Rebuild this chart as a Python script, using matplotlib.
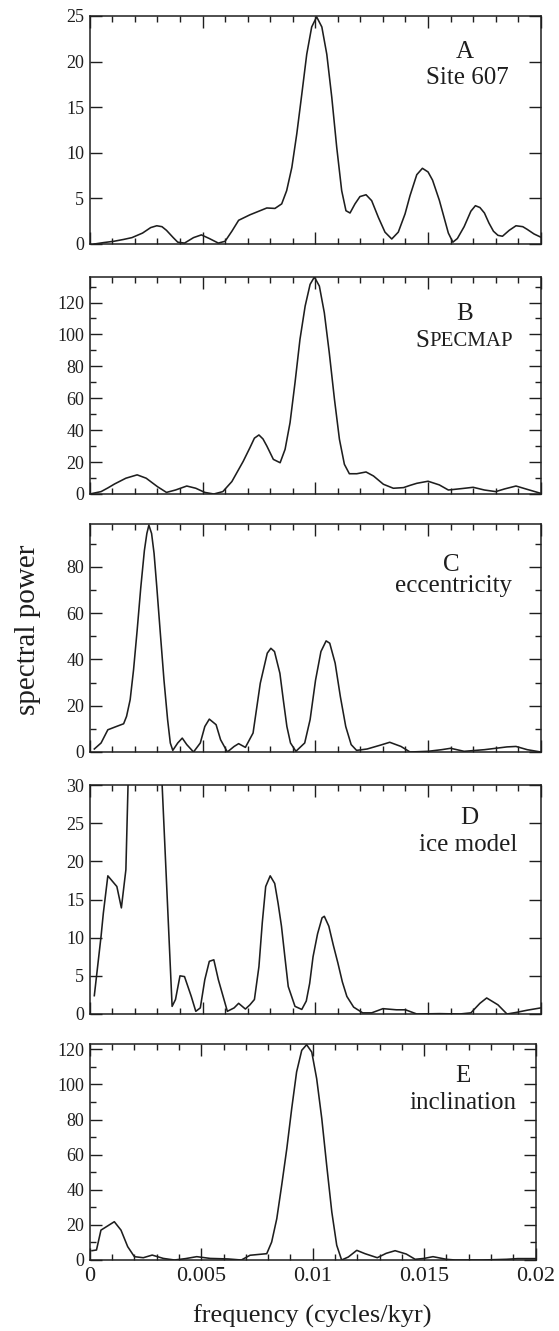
import matplotlib
matplotlib.use("Agg")
import matplotlib.pyplot as plt
from matplotlib.ticker import MultipleLocator, FixedLocator

plt.rcParams['font.family'] = ['Liberation Serif', 'DejaVu Serif']

ink = "#1e1e1e"

# panel A - Site 607
freq_a = [0.0002, 0.0006, 0.00107, 0.0015, 0.00187, 0.00234, 0.0027, 0.00297, 0.0032, 0.0034,
          0.0037, 0.0039, 0.0042, 0.0046, 0.00495, 0.0053, 0.0057, 0.0060, 0.0063, 0.0066,
          0.0071, 0.00755, 0.00785, 0.00821, 0.00851, 0.00873, 0.00896, 0.00918, 0.0094, 0.00962,
          0.00984, 0.01006, 0.01029, 0.01051, 0.01073, 0.01095, 0.01117, 0.01136, 0.01154, 0.01176,
          0.01198, 0.01225, 0.0125, 0.0128, 0.01309, 0.01339, 0.01368, 0.01398, 0.0142, 0.0145,
          0.01475, 0.0150, 0.0152, 0.0155, 0.0157, 0.0159, 0.0161, 0.0163, 0.0166, 0.0169,
          0.0171, 0.0173, 0.0175, 0.0177, 0.0179, 0.0181, 0.0183, 0.0186, 0.0189, 0.0192,
          0.0194, 0.0197, 0.0200]
power_a = [0.0, 0.15, 0.3, 0.5, 0.7, 1.2, 1.8, 2.0, 1.9, 1.5,
           0.7, 0.2, 0.1, 0.7, 1.0, 0.6, 0.1, 0.3, 1.4, 2.6,
           3.2, 3.65, 3.95, 3.9, 4.4, 5.85, 8.4, 12.1, 16.4, 20.8,
           23.8, 24.9, 23.8, 20.8, 16.1, 10.6, 5.85, 3.65, 3.4, 4.4,
           5.2, 5.4, 4.75, 2.9, 1.3, 0.55, 1.3, 3.3, 5.3, 7.6,
           8.3, 7.9, 7.0, 4.8, 3.0, 1.2, 0.2, 0.6, 1.9, 3.6,
           4.2, 4.0, 3.4, 2.3, 1.4, 0.95, 0.85, 1.5, 2.0, 1.9,
           1.6, 1.1, 0.75]

# panel B - SPECMAP
freq_b = [0.0000, 0.0005, 0.0008, 0.0011, 0.0016, 0.0021, 0.0025, 0.0030, 0.0034, 0.0038,
          0.0043, 0.0047, 0.0051, 0.0055, 0.0059, 0.0063, 0.0068, 0.0071, 0.0073, 0.0075,
          0.00768, 0.00785, 0.00814, 0.00844, 0.00866, 0.00888, 0.0091, 0.00932, 0.00955, 0.00977,
          0.00996, 0.01018, 0.0104, 0.01062, 0.01085, 0.01107, 0.01129, 0.01151, 0.01184, 0.01225,
          0.01258, 0.01302, 0.01346, 0.01391, 0.0142, 0.0145, 0.0150, 0.0155, 0.0159, 0.0165,
          0.0170, 0.0175, 0.0180, 0.0184, 0.0189, 0.0194, 0.0200]
power_b = [0.0, 1.5, 3.8, 6.3, 9.9, 12.0, 9.9, 4.6, 1.0, 2.5,
           5.0, 3.6, 1.0, 0.0, 1.5, 7.8, 20.4, 29.0, 35.0, 37.0,
           34.5, 30.1, 21.7, 19.6, 28.0, 44.7, 69.7, 96.9, 117.8, 131.4,
           136.0, 130.3, 113.6, 88.5, 59.3, 34.3, 18.6, 12.7, 12.7, 13.8,
           11.3, 6.1, 3.6, 4.0, 5.4, 6.7, 8.0, 5.7, 2.5, 3.4,
           4.2, 2.5, 1.5, 3.2, 5.0, 2.9, 0.4]

# panel C - eccentricity
freq_c = [0.0002, 0.0005, 0.0008, 0.0012, 0.0015, 0.00163, 0.00179, 0.00194, 0.0021, 0.00226,
          0.00242, 0.00253, 0.00262, 0.00274, 0.00285, 0.00297, 0.00313, 0.00329, 0.00345, 0.00357,
          0.00368, 0.0039, 0.0041, 0.0043, 0.0046, 0.0049, 0.0051, 0.0053, 0.0056, 0.0058,
          0.0061, 0.0064, 0.0066, 0.0069, 0.00724, 0.00756, 0.00787, 0.00803, 0.00819, 0.00843,
          0.00858, 0.00874, 0.0089, 0.00914, 0.00953, 0.00977, 0.01001, 0.01025, 0.01048, 0.01064,
          0.01088, 0.01111, 0.01135, 0.01159, 0.01183, 0.0123, 0.0129, 0.0133, 0.0138, 0.0142,
          0.0150, 0.0156, 0.0160, 0.0166, 0.0175, 0.0185, 0.0189, 0.0194, 0.0200]
power_c = [1.3, 3.9, 9.6, 11.1, 12.2, 15.4, 22.6, 35.5, 52.6, 71.0,
           87.0, 94.4, 98.0, 94.4, 85.8, 71.4, 51.0, 31.0, 14.0, 3.9,
           0.7, 3.9, 6.0, 3.2, 0.0, 3.9, 11.0, 14.2, 11.8, 5.3,
           0.0, 2.4, 3.6, 2.0, 8.2, 29.7, 42.7, 44.8, 43.4, 34.0,
           22.6, 11.0, 3.9, 0.3, 3.9, 14.0, 31.0, 43.4, 48.0, 47.0,
           38.4, 24.0, 11.0, 3.2, 0.7, 1.3, 3.0, 4.2, 2.4, 0.0,
           0.3, 1.0, 1.6, 0.3, 1.0, 2.2, 2.4, 1.0, 0.0]

# panel D - ice model (main peak runs off the top of the panel)
freq_d = [0.0002, 0.0005, 0.0006, 0.0008, 0.0012, 0.0014, 0.0016, 0.0017, 0.0019, 0.0026,
          0.0032, 0.00365, 0.0038, 0.0040, 0.0042, 0.0045, 0.0047, 0.0049, 0.0051, 0.0053,
          0.0055, 0.0057, 0.0061, 0.0064, 0.0066, 0.0069, 0.0071, 0.0073, 0.0075, 0.00765,
          0.0078, 0.0080, 0.0082, 0.00835, 0.0085, 0.00865, 0.0088, 0.0091, 0.0094, 0.0096,
          0.00975, 0.0099, 0.0101, 0.0103, 0.0104, 0.0106, 0.0108, 0.0110, 0.0112, 0.0114,
          0.0117, 0.0121, 0.0125, 0.0130, 0.0136, 0.0140, 0.0145, 0.0155, 0.0164, 0.0169,
          0.0173, 0.0176, 0.0181, 0.0185, 0.0189, 0.0194, 0.0200]
power_d = [2.4, 10.2, 13.2, 18.1, 16.7, 13.9, 18.9, 30.5, 60.0, 90.0,
           30.5, 1.0, 1.9, 5.0, 4.9, 2.3, 0.35, 0.8, 4.5, 6.9,
           7.1, 4.5, 0.35, 0.8, 1.4, 0.65, 1.2, 1.9, 6.2, 12.0,
           16.7, 18.1, 17.1, 14.5, 11.5, 7.5, 3.6, 1.0, 0.6, 1.7,
           4.0, 7.5, 10.5, 12.6, 12.8, 11.5, 9.0, 6.7, 4.2, 2.3,
           0.9, 0.15, 0.15, 0.7, 0.55, 0.55, 0.0, 0.05, 0.0, 0.15,
           1.4, 2.1, 1.2, 0.0, 0.2, 0.5, 0.8]

# panel E - inclination
freq_e = [0.0001, 0.0003, 0.0005, 0.0008, 0.0011, 0.0014, 0.0017, 0.0020, 0.0024, 0.0028,
          0.0033, 0.0038, 0.0043, 0.0048, 0.0054, 0.0062, 0.0068, 0.00719, 0.00794, 0.00816,
          0.00839, 0.00861, 0.00884, 0.00906, 0.00928, 0.00951, 0.00973, 0.00996, 0.01018, 0.01041,
          0.01063, 0.01086, 0.01108, 0.0113, 0.0116, 0.01198, 0.01235, 0.0129, 0.0133, 0.0137,
          0.0142, 0.0146, 0.0150, 0.0154, 0.0160, 0.0164, 0.0176, 0.0187, 0.0192, 0.0200]
power_e = [5.3, 5.7, 17.0, 19.4, 21.8, 17.0, 7.6, 1.9, 1.3, 2.8,
           0.9, 0.0, 0.8, 1.9, 0.9, 0.6, 0.0, 2.7, 3.6, 10.2,
           23.5, 42.5, 63.4, 86.2, 107.1, 119.4, 122.6, 118.4, 103.3, 80.5,
           53.9, 27.3, 8.4, 0.0, 1.7, 5.5, 3.6, 1.3, 3.8, 5.3,
           3.4, 0.4, 0.9, 1.9, 0.4, 0.0, 0.0, 0.4, 0.8, 0.8]

panels = [
    (freq_a, power_a, 25, 5, None, "A", "Site 607", (0.832, 0.815), (0.838, 0.702)),
    (freq_b, power_b, 136, 20, 10, "B", "SPECMAP", (0.832, 0.804), (0.840, 0.677)),
    (freq_c, power_c, 98.5, 20, 10, "C", "eccentricity", (0.802, 0.792), (0.806, 0.703)),
    (freq_d, power_d, 30, 5, None, "D", "ice model", (0.842, 0.83), (0.840, 0.713)),
    (freq_e, power_e, 123, 20, 10, "E", "inclination", (0.838, 0.823), (0.838, 0.699)),
]

# axes boxes in pixels (top, bottom, right) for a 559x1331 canvas
boxes = [(16, 244, 540.8), (277, 494, 540.8), (524, 752, 540.8),
         (785, 1014, 540.8), (1044, 1260, 535.5)]

W, H = 559, 1331
fig = plt.figure(figsize=(W / 100, H / 100), dpi=100)
left_px = 89.8

for (fx, py, ytop, ymaj, ymin, letter, name, pos_l, pos_n), (t, b, r) in zip(panels, boxes):
    ax = fig.add_axes([left_px / W, 1 - b / H, (r - left_px) / W, (b - t) / H])
    ax.plot(fx, py, color=ink, lw=1.15)
    ax.set_xlim(0, 0.02)
    ax.set_ylim(0, ytop)
    ax.xaxis.set_major_locator(MultipleLocator(0.005))
    ax.xaxis.set_minor_locator(MultipleLocator(0.001))
    ax.yaxis.set_major_locator(MultipleLocator(ymaj))
    if ymin:
        ax.yaxis.set_minor_locator(MultipleLocator(ymin))
    else:
        ax.yaxis.set_minor_locator(FixedLocator([]))
    ax.tick_params(which='both', direction='in', top=True, right=True,
                   color=ink, width=1.0)
    ax.tick_params(which='major', length=8.6)
    ax.tick_params(which='minor', length=4.3)
    ax.tick_params(axis='y', labelsize=13, pad=4, labelcolor=ink)
    ax.tick_params(axis='x', labelsize=16, pad=5, labelcolor=ink)
    for sp in ax.spines.values():
        sp.set_linewidth(1.1)
        sp.set_color(ink)
    if letter != "E":
        ax.set_xticklabels([])
    else:
        ax.set_xticks([0, 0.005, 0.01, 0.015, 0.02])
        ax.set_xticklabels(["0", "0.005", "0.01", "0.015", "0.02"])

    ax.text(pos_l[0], pos_l[1], letter, transform=ax.transAxes, ha='center',
            va='baseline', fontsize=18, color=ink)
    if name == "SPECMAP":
        # small caps done by hand
        s = ax.text(0.722, pos_n[1], "S", transform=ax.transAxes, ha='left',
                    va='baseline', fontsize=18, color=ink)
        ax.annotate("PECMAP", xy=(1, 0), xycoords=s, ha='left', va='bottom',
                    fontsize=15, color=ink, xytext=(0, 1), textcoords='offset points')
    else:
        ax.text(pos_n[0], pos_n[1], name, transform=ax.transAxes, ha='center',
                va='baseline', fontsize=18, color=ink)

fig.text(28.5 / W, 1 - 630 / H, "spectral power", rotation=90, ha='center',
         va='center', fontsize=21, color=ink)
fig.text(312.6 / W, 1 - 1316 / H, "frequency (cycles/kyr)", ha='center',
         va='center', fontsize=19, color=ink)

fig.savefig("out.png", dpi=100)
